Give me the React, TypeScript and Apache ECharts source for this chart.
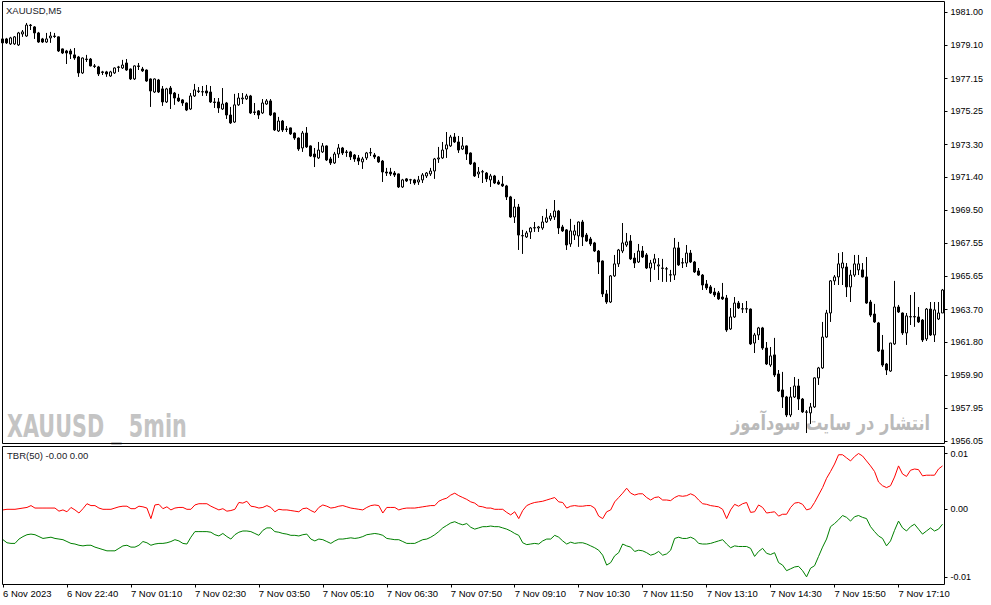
import React, { useEffect, useRef } from "react";
import * as echarts from "echarts";

// Time-axis labels, one every 16 bars
const timeLabels = [
  "6 Nov 2023", "6 Nov 22:40", "7 Nov 01:10", "7 Nov 02:30", "7 Nov 03:50",
  "7 Nov 05:10", "7 Nov 06:30", "7 Nov 07:50", "7 Nov 09:10", "7 Nov 10:30",
  "7 Nov 11:50", "7 Nov 13:10", "7 Nov 14:30", "7 Nov 15:50", "7 Nov 17:10",
];

// Price scale tick labels (right axis)
const priceTicks = [
  1981.0, 1979.1, 1977.15, 1975.25, 1973.3, 1971.4, 1969.5,
  1967.55, 1965.65, 1963.7, 1961.8, 1959.9, 1957.95, 1956.05,
];

// Indicator scale tick labels (max, zero, min)
const tbrTicks = [0.009, 0, -0.011];

// XAUUSD M5 candles: [open, close, low, high]
const ohlc: number[][] = [
  [1979.46, 1979.23, 1979.11, 1979.81], [1979.46, 1979.23, 1979.17, 1979.52], [1979.17, 1979.52, 1979.11, 1979.58], [1979.17, 1979.58, 1979.11, 1979.63],
  [1979.11, 1979.81, 1979.05, 1979.87], [1979.75, 1979.87, 1979.58, 1979.98], [1979.63, 1980.27, 1979.58, 1980.39], [1980.27, 1980.24, 1979.98, 1980.33],
  [1980.16, 1979.81, 1979.46, 1980.21], [1979.81, 1979.28, 1979.23, 1979.87], [1979.46, 1979.28, 1979.23, 1979.52], [1979.28, 1979.46, 1979.23, 1979.81],
  [1979.52, 1979.63, 1979.23, 1979.87], [1979.63, 1979.60, 1979.52, 1979.81], [1979.58, 1978.76, 1978.70, 1979.60], [1978.88, 1978.64, 1978.58, 1978.90],
  [1978.76, 1978.64, 1978.00, 1978.82], [1978.76, 1978.58, 1978.29, 1978.88], [1978.53, 1978.35, 1978.24, 1978.93], [1978.41, 1977.48, 1977.25, 1978.47],
  [1977.48, 1978.35, 1977.42, 1978.38], [1978.29, 1978.26, 1978.12, 1978.53], [1978.29, 1977.89, 1977.86, 1978.35], [1977.89, 1977.86, 1977.77, 1978.00],
  [1977.83, 1977.42, 1977.30, 1977.89], [1977.54, 1977.51, 1977.36, 1977.60], [1977.54, 1977.42, 1977.25, 1977.60], [1977.30, 1977.54, 1977.25, 1977.60],
  [1977.48, 1977.77, 1977.42, 1977.80], [1977.80, 1977.83, 1977.54, 1977.89], [1977.77, 1977.94, 1977.71, 1978.24], [1978.06, 1977.65, 1977.60, 1978.29],
  [1977.71, 1977.13, 1977.07, 1977.74], [1977.13, 1977.89, 1977.07, 1977.92], [1977.89, 1977.86, 1977.65, 1978.06], [1977.71, 1977.60, 1977.54, 1977.83],
  [1977.65, 1977.01, 1976.96, 1977.68], [1977.13, 1976.43, 1975.50, 1977.16], [1976.37, 1977.13, 1976.31, 1977.16], [1977.07, 1976.37, 1976.31, 1977.13],
  [1976.55, 1975.79, 1975.56, 1976.72], [1975.79, 1976.55, 1975.73, 1976.61], [1976.60, 1976.26, 1975.38, 1976.72], [1976.31, 1976.02, 1975.62, 1976.37],
  [1976.02, 1975.85, 1975.79, 1976.26], [1975.91, 1975.73, 1975.56, 1975.96], [1975.73, 1975.32, 1975.26, 1975.76], [1975.38, 1976.14, 1975.32, 1976.31],
  [1976.14, 1976.49, 1976.08, 1976.84], [1976.43, 1976.40, 1976.31, 1976.66], [1976.37, 1976.39, 1976.14, 1976.72], [1976.43, 1976.31, 1976.14, 1976.78],
  [1976.37, 1975.79, 1975.73, 1976.72], [1975.79, 1975.76, 1975.44, 1976.02], [1975.79, 1975.44, 1975.15, 1976.02], [1975.38, 1975.67, 1975.32, 1976.60],
  [1975.73, 1975.03, 1974.80, 1975.79], [1975.03, 1974.57, 1974.51, 1975.50], [1974.62, 1975.62, 1974.57, 1976.26], [1975.62, 1976.02, 1975.56, 1976.31],
  [1975.97, 1976.02, 1975.67, 1976.31], [1975.97, 1976.14, 1975.91, 1976.26], [1976.14, 1975.15, 1975.09, 1976.20], [1975.21, 1975.18, 1975.03, 1975.73],
  [1975.27, 1975.03, 1974.80, 1975.32], [1975.15, 1975.73, 1975.09, 1975.96], [1975.67, 1975.85, 1975.62, 1975.96], [1975.85, 1975.03, 1974.97, 1975.96],
  [1975.15, 1974.16, 1974.10, 1975.18], [1974.10, 1974.68, 1974.04, 1974.92], [1974.68, 1974.16, 1974.04, 1974.74], [1974.22, 1974.19, 1974.04, 1974.39],
  [1974.28, 1973.93, 1973.87, 1974.30], [1973.98, 1973.69, 1973.58, 1974.01], [1973.69, 1973.05, 1972.94, 1973.72], [1973.11, 1973.98, 1972.88, 1974.10],
  [1973.98, 1973.17, 1973.11, 1974.33], [1973.23, 1972.64, 1972.59, 1973.26], [1972.76, 1972.59, 1972.00, 1973.11], [1972.53, 1972.99, 1972.47, 1973.46],
  [1972.88, 1973.23, 1972.82, 1973.40], [1973.23, 1972.41, 1972.35, 1973.26], [1972.47, 1972.24, 1972.12, 1972.59], [1972.24, 1972.76, 1972.18, 1972.88],
  [1972.76, 1973.11, 1972.53, 1973.34], [1973.11, 1972.82, 1972.70, 1973.17], [1972.88, 1972.85, 1972.59, 1972.99], [1972.88, 1972.59, 1972.41, 1972.94],
  [1972.70, 1972.47, 1972.30, 1972.76], [1972.53, 1972.35, 1972.12, 1972.70], [1972.30, 1972.47, 1971.89, 1972.59], [1972.53, 1972.82, 1972.41, 1972.88],
  [1972.82, 1972.84, 1972.64, 1973.11], [1972.70, 1972.59, 1972.47, 1972.82], [1972.59, 1972.30, 1972.24, 1972.64], [1972.35, 1971.71, 1971.13, 1972.41],
  [1971.71, 1971.65, 1971.48, 1971.95], [1971.71, 1971.60, 1971.48, 1971.95], [1971.65, 1971.54, 1971.42, 1971.77], [1971.60, 1970.84, 1970.78, 1971.62],
  [1970.84, 1971.25, 1970.78, 1971.31], [1971.31, 1971.19, 1971.13, 1971.36], [1971.25, 1971.26, 1971.01, 1971.31], [1971.25, 1971.07, 1970.96, 1971.31],
  [1971.13, 1971.25, 1970.96, 1971.48], [1971.25, 1971.54, 1971.07, 1971.65], [1971.48, 1971.65, 1971.36, 1971.71], [1971.60, 1971.77, 1971.48, 1971.95],
  [1971.77, 1972.47, 1971.31, 1972.53], [1972.47, 1972.53, 1972.24, 1973.17], [1972.53, 1972.99, 1972.47, 1973.46], [1973.05, 1973.29, 1972.53, 1974.04],
  [1973.23, 1973.75, 1973.17, 1973.87], [1973.75, 1973.46, 1973.40, 1973.98], [1973.46, 1972.99, 1972.82, 1973.81], [1973.05, 1973.23, 1972.99, 1973.75],
  [1973.23, 1972.76, 1972.41, 1973.26], [1972.82, 1972.18, 1972.12, 1972.85], [1972.24, 1971.48, 1971.42, 1972.30], [1971.60, 1971.71, 1971.36, 1972.00],
  [1971.71, 1971.73, 1971.07, 1971.83], [1971.65, 1971.31, 1971.13, 1971.71], [1971.25, 1971.48, 1970.84, 1971.60], [1971.48, 1971.07, 1971.01, 1971.54],
  [1971.13, 1971.01, 1970.96, 1971.25], [1971.01, 1970.90, 1970.84, 1971.48], [1970.90, 1970.26, 1970.08, 1970.96], [1970.26, 1969.09, 1969.04, 1970.32],
  [1969.09, 1969.67, 1968.74, 1970.14], [1969.67, 1968.04, 1967.17, 1969.85], [1967.99, 1968.01, 1966.94, 1968.34], [1967.93, 1968.16, 1967.87, 1968.28],
  [1968.22, 1968.45, 1967.81, 1968.51], [1968.45, 1968.47, 1968.22, 1968.80], [1968.45, 1968.51, 1968.22, 1968.57], [1968.45, 1968.80, 1968.34, 1969.15],
  [1968.80, 1969.04, 1968.74, 1969.56], [1968.98, 1969.15, 1968.86, 1969.32], [1969.09, 1969.44, 1968.92, 1970.08], [1969.44, 1968.45, 1968.10, 1969.50],
  [1968.51, 1968.28, 1968.22, 1968.63], [1968.34, 1967.46, 1967.17, 1968.39], [1967.52, 1968.28, 1967.35, 1968.98], [1968.04, 1968.28, 1967.75, 1968.63],
  [1967.99, 1968.80, 1967.35, 1968.83], [1968.80, 1967.93, 1967.40, 1968.92], [1968.04, 1967.69, 1967.64, 1968.16], [1967.81, 1967.52, 1967.40, 1967.93],
  [1967.58, 1967.11, 1967.05, 1967.64], [1967.11, 1966.47, 1965.77, 1967.17], [1966.53, 1964.61, 1964.43, 1966.56], [1964.61, 1964.14, 1964.03, 1964.84],
  [1964.14, 1965.66, 1964.08, 1965.71], [1965.66, 1966.36, 1965.60, 1966.88], [1966.36, 1967.17, 1966.18, 1967.23], [1967.11, 1967.58, 1966.99, 1968.74],
  [1967.46, 1967.64, 1967.35, 1968.16], [1967.69, 1966.65, 1966.59, 1968.04], [1966.70, 1966.41, 1966.12, 1966.99], [1966.47, 1967.11, 1966.41, 1967.52],
  [1967.11, 1966.76, 1966.70, 1967.40], [1966.88, 1966.12, 1966.06, 1966.99], [1966.12, 1966.41, 1965.31, 1966.59], [1966.41, 1966.65, 1966.01, 1966.94],
  [1966.24, 1966.30, 1965.42, 1966.70], [1966.12, 1966.10, 1965.31, 1966.65], [1966.06, 1966.08, 1965.31, 1966.18], [1965.71, 1965.73, 1965.31, 1966.01],
  [1965.71, 1967.29, 1965.42, 1967.87], [1967.29, 1966.30, 1966.24, 1967.64], [1966.41, 1966.43, 1966.12, 1966.70], [1966.41, 1966.99, 1966.18, 1967.46],
  [1966.99, 1966.47, 1966.41, 1967.17], [1966.47, 1965.89, 1965.83, 1966.53], [1965.95, 1965.71, 1965.66, 1966.12], [1965.71, 1965.13, 1964.84, 1965.77],
  [1965.19, 1964.96, 1964.84, 1965.42], [1965.02, 1964.67, 1964.61, 1965.13], [1964.72, 1964.55, 1964.43, 1964.96], [1964.67, 1964.32, 1964.26, 1964.78],
  [1964.43, 1964.32, 1964.26, 1965.25], [1964.37, 1962.51, 1962.40, 1964.55], [1962.57, 1963.27, 1962.51, 1963.79], [1963.27, 1964.08, 1963.21, 1964.43],
  [1964.08, 1963.79, 1963.73, 1964.20], [1963.73, 1963.75, 1963.50, 1964.08], [1963.75, 1963.73, 1963.50, 1964.20], [1963.73, 1961.70, 1961.64, 1963.76],
  [1961.75, 1962.22, 1961.17, 1962.34], [1962.22, 1962.63, 1961.93, 1962.69], [1962.63, 1961.46, 1961.35, 1962.69], [1961.46, 1960.53, 1960.47, 1961.81],
  [1960.47, 1961.00, 1960.36, 1961.52], [1961.06, 1959.89, 1959.77, 1962.05], [1959.95, 1958.96, 1958.90, 1960.18], [1959.02, 1958.61, 1957.97, 1960.07],
  [1958.61, 1957.56, 1957.44, 1958.67], [1957.56, 1958.61, 1957.44, 1959.19], [1958.61, 1959.25, 1958.55, 1959.77], [1959.25, 1958.49, 1957.85, 1959.66],
  [1958.49, 1957.74, 1957.68, 1958.55], [1957.74, 1957.72, 1956.51, 1957.85], [1957.68, 1958.03, 1957.04, 1958.26], [1958.03, 1959.72, 1957.97, 1959.75],
  [1959.72, 1960.30, 1959.31, 1960.36], [1960.30, 1962.10, 1960.24, 1962.98], [1962.10, 1963.50, 1962.05, 1963.68], [1963.50, 1965.37, 1962.98, 1965.42],
  [1965.37, 1965.60, 1965.13, 1965.71], [1965.60, 1966.36, 1965.13, 1966.99], [1966.12, 1966.41, 1965.13, 1967.05], [1966.18, 1965.02, 1964.43, 1966.41],
  [1965.02, 1965.71, 1964.14, 1966.01], [1965.71, 1966.36, 1965.60, 1966.88], [1966.01, 1966.36, 1965.71, 1966.88], [1966.01, 1965.60, 1965.57, 1966.41],
  [1965.60, 1964.08, 1964.03, 1966.76], [1964.14, 1963.38, 1963.27, 1964.26], [1963.44, 1962.98, 1962.92, 1964.03], [1962.92, 1961.29, 1961.23, 1962.98],
  [1961.35, 1960.47, 1960.36, 1962.22], [1960.53, 1960.18, 1959.89, 1960.59], [1960.12, 1961.75, 1960.07, 1961.76], [1961.70, 1963.85, 1961.64, 1965.37],
  [1963.85, 1963.56, 1963.50, 1963.97], [1963.50, 1962.34, 1962.22, 1963.53], [1962.34, 1963.33, 1961.64, 1963.50], [1963.27, 1963.29, 1962.80, 1964.55],
  [1963.29, 1963.27, 1962.69, 1964.72], [1963.27, 1962.98, 1962.92, 1963.85], [1963.09, 1961.93, 1961.81, 1963.15], [1961.99, 1963.73, 1961.87, 1963.79],
  [1963.73, 1962.22, 1962.16, 1964.14], [1962.22, 1963.68, 1961.81, 1964.14], [1963.15, 1963.50, 1963.09, 1964.14], [1963.50, 1964.84, 1963.50, 1964.90],
];

// TBR(50) indicator, red line
const tbrRed = [
  -0.0001, 0, 0, 0, 0.0001, 0.0002, 0.0003, 0.0006, 0.0002, 0.0002,
  0.0002, 0.0002, 0.0002, 0.0002, -0.0003, -0.0001, -0.0004, 0.0003, -0.0001, -0.0006,
  0.0001, 0.0009, 0.0006, 0.0006, 0.0002, 0, 0, 0, 0.0002, 0.0004,
  0.0005, 0.0005, 0.0001, 0.0001, 0.0005, 0.0004, 0.0002, -0.0015, 0.0007, 0.0008,
  0.0001, 0.0004, -0.0001, 0.0002, 0.0003, 0.0003, 0, 0, 0.0007, 0.0009,
  0.0009, 0.0009, 0.0005, 0.0002, -0.0001, 0.0001, -0.0003, -0.0002, 0, 0.0011,
  0.001, 0.0013, 0.0005, 0.0004, 0.0002, 0.0003, 0.0006, 0.0003, -0.0004, 0,
  -0.0001, -0.0001, -0.0002, -0.0003, -0.0004, 0.0001, 0.0002, -0.0002, -0.0005, 0.0003,
  0.0007, 0.0005, 0.0002, 0.0003, 0.0005, 0.0006, 0.0004, 0.0002, 0.0001, 0,
  -0.0001, 0.0003, 0.0006, 0.0007, 0.0006, -0.0006, 0.0003, 0.0003, 0.0003, -0.0001,
  0.0001, 0.0002, 0.0002, 0.0002, 0.0003, 0.0004, 0.0005, 0.0006, 0.0006, 0.0013,
  0.0016, 0.0018, 0.0023, 0.0026, 0.0022, 0.0019, 0.0016, 0.0012, 0.001, 0.0005,
  0.0004, 0.0002, 0.0002, 0, 0, 0, -0.0005, -0.0009, -0.0004, -0.0015,
  -0.0002, 0.0006, 0.0009, 0.0011, 0.0012, 0.0013, 0.0015, 0.0017, 0.0019, 0.0012,
  0.0011, 0.0002, 0.0005, 0.0006, 0.0005, 0.0005, 0.0006, 0.0006, 0.0002, -0.0011,
  -0.0015, -0.0004, -0.0001, 0.0012, 0.0019, 0.0026, 0.0034, 0.0026, 0.0023, 0.0025,
  0.0025, 0.0019, 0.0015, 0.0019, 0.002, 0.0015, 0.0015, 0.0014, 0.0019, 0.0022,
  0.0021, 0.0022, 0.0025, 0.0022, 0.0015, 0.0009, 0.0008, 0.0006, 0.0005, 0.0004,
  0, -0.0015, -0.0001, 0.0008, 0.0005, 0.0009, 0.0011, -0.0005, -0.0004, 0.0007,
  0.0003, -0.0006, -0.0005, -0.0004, -0.0011, -0.0008, -0.0008, 0.0003, 0.001, 0.0011,
  0.0008, -0.0001, 0.0001, 0.0011, 0.0023, 0.0035, 0.005, 0.0061, 0.0073, 0.0088,
  0.0088, 0.0083, 0.0078, 0.0085, 0.009, 0.0086, 0.0078, 0.007, 0.0061, 0.0044,
  0.0038, 0.0035, 0.0038, 0.0052, 0.007, 0.0057, 0.0053, 0.0063, 0.0065, 0.0064,
  0.0054, 0.0055, 0.0055, 0.0055, 0.0065, 0.007,
];

// TBR(50) indicator, green line
const tbrGreen = [
  -0.0049, -0.0054, -0.0055, -0.0055, -0.0048, -0.0044, -0.0041, -0.004, -0.0041, -0.0044,
  -0.0047, -0.0046, -0.0045, -0.0047, -0.0048, -0.0049, -0.0052, -0.0055, -0.0056, -0.0058,
  -0.0059, -0.0058, -0.0058, -0.0061, -0.0063, -0.0065, -0.0067, -0.0067, -0.0067, -0.0063,
  -0.0059, -0.0058, -0.0061, -0.0061, -0.0058, -0.0052, -0.0054, -0.0058, -0.0056, -0.0055,
  -0.0055, -0.0054, -0.0052, -0.0049, -0.0051, -0.0055, -0.0056, -0.0045, -0.0036, -0.0036,
  -0.0036, -0.0036, -0.0037, -0.0041, -0.0043, -0.0039, -0.0044, -0.0048, -0.0041, -0.0037,
  -0.0035, -0.0035, -0.0036, -0.0039, -0.0042, -0.0034, -0.003, -0.003, -0.0036, -0.0037,
  -0.0039, -0.004, -0.0042, -0.0042, -0.0043, -0.0041, -0.004, -0.0048, -0.0051, -0.0048,
  -0.0049, -0.0052, -0.0055, -0.0051, -0.0048, -0.0048, -0.0047, -0.0046, -0.0047, -0.0046,
  -0.0044, -0.0041, -0.004, -0.0039, -0.004, -0.0042, -0.0047, -0.0048, -0.0049, -0.0049,
  -0.0052, -0.0055, -0.0055, -0.0055, -0.0052, -0.0049, -0.0048, -0.0045, -0.0041, -0.0036,
  -0.003, -0.0026, -0.0022, -0.002, -0.0023, -0.0025, -0.0023, -0.0029, -0.0032, -0.003,
  -0.0028, -0.0028, -0.0027, -0.0028, -0.0028, -0.003, -0.0032, -0.0035, -0.0039, -0.0042,
  -0.0054, -0.0057, -0.0056, -0.0055, -0.0056, -0.0051, -0.0048, -0.0048, -0.0042, -0.0045,
  -0.0051, -0.0056, -0.0053, -0.0055, -0.0054, -0.0054, -0.0056, -0.0059, -0.0062, -0.0066,
  -0.0074, -0.009, -0.0086, -0.0075, -0.007, -0.0056, -0.0059, -0.0061, -0.0068, -0.0066,
  -0.0067, -0.007, -0.0074, -0.0072, -0.0068, -0.0074, -0.0072, -0.0066, -0.0047, -0.0045,
  -0.0047, -0.0047, -0.0045, -0.0048, -0.0055, -0.0056, -0.0056, -0.0055, -0.0053, -0.0051,
  -0.0049, -0.0056, -0.0062, -0.0059, -0.006, -0.006, -0.006, -0.0063, -0.0076, -0.0068,
  -0.0063, -0.0071, -0.0073, -0.007, -0.0086, -0.009, -0.0099, -0.0096, -0.0093, -0.0092,
  -0.0099, -0.0109, -0.0095, -0.0091, -0.0076, -0.0061, -0.0048, -0.0028, -0.0023, -0.0017,
  -0.001, -0.0013, -0.0019, -0.0012, -0.001, -0.0013, -0.0015, -0.0028, -0.0036, -0.0043,
  -0.0047, -0.0059, -0.0051, -0.0034, -0.0019, -0.003, -0.0035, -0.0028, -0.0024, -0.0032,
  -0.004, -0.0035, -0.003, -0.0035, -0.0032, -0.0024,
];

const FONT = "'Liberation Sans', Arial, sans-serif";

export default function App() {
  const ref = useRef<HTMLDivElement>(null);

  useEffect(() => {
    const chart = echarts.init(ref.current as HTMLDivElement, null, {
      renderer: "svg",
      width: 991,
      height: 605,
    });
    const cats = ohlc.map((_, i) => String(i));
    const every16 = (i: number) => i % 16 === 0;

    chart.setOption({
      animation: false,
      backgroundColor: "#ffffff",
      grid: [
        { left: 2.5, top: 1.5, width: 940, height: 442 },
        { left: 2.5, top: 446.5, width: 940, height: 138 },
      ],
      xAxis: [
        {
          type: "category",
          gridIndex: 0,
          data: cats,
          boundaryGap: false,
          axisLine: { show: false, onZero: false },
          axisTick: { show: false },
          axisLabel: { show: false },
          splitLine: { show: false },
        },
        {
          type: "category",
          gridIndex: 1,
          data: cats,
          boundaryGap: false,
          position: "bottom",
          axisLine: { show: false, onZero: false },
          splitLine: { show: false },
          axisTick: {
            show: true,
            interval: every16,
            length: 3,
            lineStyle: { color: "#000", width: 1 },
          },
          axisLabel: {
            interval: every16,
            formatter: (_v: string, idx: number) => timeLabels[idx / 16] ?? "",
            align: "left",
            margin: 4,
            fontSize: 9.5,
            color: "#000",
            fontFamily: FONT,
          },
        },
      ],
      yAxis: [
        {
          type: "value",
          gridIndex: 0,
          position: "right",
          offset: 2,
          min: 1955.9,
          max: 1981.64,
          axisLine: { show: false },
          splitLine: { show: false },
          axisTick: {
            show: true,
            length: 3,
            customValues: priceTicks,
            lineStyle: { color: "#000", width: 1 },
          },
          axisLabel: {
            customValues: priceTicks,
            formatter: (v: number) => v.toFixed(2),
            margin: 6,
            fontSize: 9,
            color: "#000",
            fontFamily: FONT,
          },
        },
        {
          type: "value",
          gridIndex: 1,
          position: "right",
          offset: 2,
          min: -0.01213,
          max: 0.01013,
          axisLine: { show: false },
          splitLine: { show: false },
          axisTick: {
            show: true,
            length: 3,
            customValues: tbrTicks,
            lineStyle: { color: "#000", width: 1 },
          },
          axisLabel: {
            customValues: tbrTicks,
            formatter: (v: number) => v.toFixed(2),
            margin: 6,
            fontSize: 9,
            color: "#000",
            fontFamily: FONT,
          },
        },
      ],
      series: [
        {
          type: "candlestick",
          xAxisIndex: 0,
          yAxisIndex: 0,
          data: ohlc,
          barWidth: 2,
          z: 3,
          itemStyle: {
            color: "#ffffff",
            color0: "#000000",
            borderColor: "#000000",
            borderColor0: "#000000",
            borderColorDoji: "#000000",
            borderWidth: 1,
          },
        },
        {
          type: "line",
          xAxisIndex: 1,
          yAxisIndex: 1,
          data: tbrRed,
          symbol: "none",
          lineStyle: { color: "#ff0000", width: 1 },
        },
        {
          type: "line",
          xAxisIndex: 1,
          yAxisIndex: 1,
          data: tbrGreen,
          symbol: "none",
          lineStyle: { color: "#008000", width: 1 },
        },
      ],
      graphic: [
        {
          type: "text",
          x: 7,
          y: 426.5,
          scaleX: 0.72,
          z: 0,
          silent: true,
          style: {
            text: "XAUUSD _ 5min",
            fontSize: 32,
            fontWeight: "bold",
            fontFamily: "'Liberation Sans Narrow', 'DejaVu Sans Condensed', sans-serif",
            fill: "#c4c4c4",
            verticalAlign: "middle",
          },
        },
        {
          type: "text",
          x: 930,
          y: 423,
          scaleX: 0.77,
          z: 0,
          silent: true,
          style: {
            text: "انتشار در سایت سودآموز",
            fontSize: 21,
            fontWeight: "bold",
            fontFamily: "'DejaVu Sans', sans-serif",
            fill: "#bababa",
            align: "right",
            verticalAlign: "middle",
          },
        },
        {
          type: "rect",
          z: 50,
          silent: true,
          shape: { x: 2.5, y: 1.5, width: 942, height: 442 },
          style: { fill: "none", stroke: "#000", lineWidth: 1 },
        },
        {
          type: "rect",
          z: 50,
          silent: true,
          shape: { x: 2.5, y: 446.5, width: 942, height: 138 },
          style: { fill: "none", stroke: "#000", lineWidth: 1 },
        },
        {
          type: "text",
          x: 6,
          y: 10.5,
          z: 50,
          silent: true,
          style: {
            text: "XAUUSD,M5",
            fontSize: 9.5,
            fontFamily: FONT,
            fill: "#1a1a28",
            verticalAlign: "middle",
          },
        },
        {
          type: "text",
          x: 7,
          y: 455.5,
          z: 50,
          silent: true,
          style: {
            text: "TBR(50) -0.00 0.00",
            fontSize: 9.5,
            fontFamily: FONT,
            fill: "#1a1a28",
            verticalAlign: "middle",
          },
        },
      ],
    });

    return () => chart.dispose();
  }, []);

  return (
    <div
      ref={ref}
      style={{
        position: "fixed",
        left: 0,
        top: 0,
        width: 991,
        height: 605,
        background: "#ffffff",
      }}
    />
  );
}
